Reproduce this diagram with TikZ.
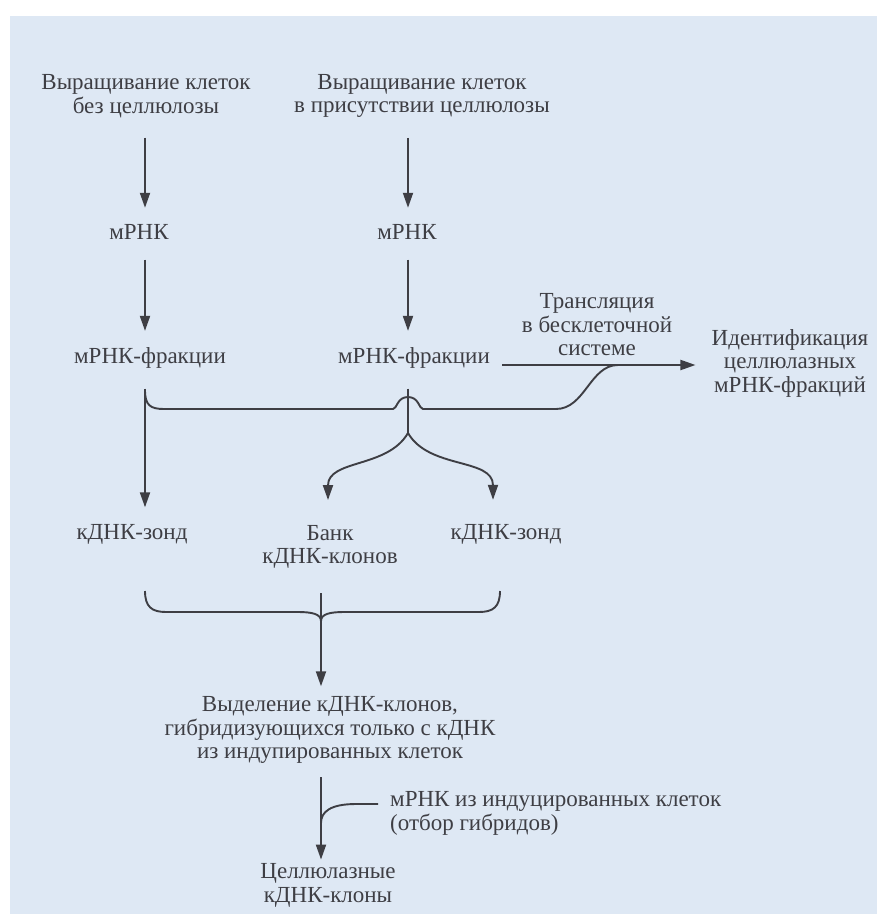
\documentclass[tikz,border=0pt]{standalone}
\usepackage{fontspec}
\setmainfont{Liberation Serif}
\usetikzlibrary{arrows.meta}
\definecolor{fon}{RGB}{222,232,244}
\definecolor{ink}{RGB}{62,62,68}
\tikzset{etap/.style={font=\fontsize{23}{23.5}\selectfont, text=ink, align=center, inner sep=0pt},
         linia/.style={draw=ink, line width=1.9pt},
         strelka/.style={linia, -{Triangle[length=15pt,width=10pt]}, shorten <=20pt, shorten >=16.5pt}}

\begin{document}
\begin{tikzpicture}[x=1pt, y=-1pt]
  \useasboundingbox (0,0) rectangle (877,914);
  \fill[white] (0,0) rectangle (877,914);
  \fill[fon] (10,16) rectangle (877,914);
  \coordinate (kolA) at (145,0); \coordinate (kolB) at (408,0); \coordinate (kolC) at (321,0);

  \node[etap] (rost1) at (146,96) {Выращивание клеток\\без целлюлозы};
  \node[etap] (rost2) at (422,96) {Выращивание клеток\\в присутствии целлюлозы};
  \node[etap] (mrnk1) at (139,232) {мРНК};
  \node[etap] (mrnk2) at (407,232) {мРНК};
  \node[etap] (frak1) at (150,358) {мРНК-фракции};
  \node[etap] (frak2) at (414,358) {мРНК-фракции};
  \node[etap] (transl) at (597,325) {Трансляция\\в бесклеточной\\системе};
  \node[etap] (ident) at (790,363) {Идентификация\\целлюлазных\\мРНК-фракций};
  \node[etap] (zond1) at (132,534) {кДНК-зонд};
  \node[etap] (bank) at (330,547) {Банк\\кДНК-клонов};
  \node[etap] (zond2) at (506,534) {кДНК-зонд};
  \node[etap] (vydel) at (330,730) {Выделение кДНК-клонов,\\гибридизующихся только с кДНК\\из индупированных клеток};
  \node[etap, align=left, anchor=west] (otbor) at (390,813.5) {мРНК из индуцированных клеток\\(отбор гибридов)};
  \node[etap] (klony) at (328,885.5) {Целлюлазные\\кДНК-клоны};

  \draw[strelka] (rost1.south -| kolA) -- (mrnk1.north -| kolA);
  \draw[strelka] (rost2.south -| kolB) -- (mrnk2.north -| kolB);
  \draw[strelka] (mrnk1.south -| kolA) -- (frak1.north -| kolA);
  \draw[strelka] (mrnk2.south -| kolB) -- (frak2.north -| kolB);
  \draw[strelka] (frak1.south -| kolA) -- (zond1.north -| kolA);

  \coordinate (start) at ([xshift=12pt, yshift=-7pt]frak2.east);
  \draw[strelka, shorten <=0pt, shorten >=16pt] (start) -- (start -| ident.west);
  \coordinate (vetkaA) at (145,390); \coordinate (vetkaT) at (618,365);
  \draw[linia] (vetkaA) .. controls (145,405) and (150,409) .. (164,409) -- (393,409)
    .. controls (397,409) and (397,397) .. (408,397) .. controls (419,397) and (419,409) .. (423,409)
    -- (556,409) .. controls (585,409) and (590,365) .. (vetkaT);

  \coordinate (razv) at (408,433);
  \draw[linia, shorten <=20pt] (frak2.south -| kolB) -- (razv);
  \draw[strelka, shorten <=0pt, shorten >=0pt] (razv) to[out=-120, in=90] ([xshift=-2pt, yshift=25pt]bank.north);
  \draw[strelka, shorten <=0pt, shorten >=0pt] (razv) to[out=-60, in=90] ([xshift=-13pt, yshift=24pt]zond2.north);

  \draw[linia] (145,591) .. controls (145,607) and (152,612) .. (166,612) -- (298,612)
    .. controls (312,612) and (321,614) .. (321,621) .. controls (321,614) and (330,612) .. (344,612)
    -- (479,612) .. controls (493,612) and (500,607) .. (500,591);
  \coordinate (skobka) at (321,593);
  \draw[strelka, shorten <=0pt, shorten >=10pt] (skobka) -- (vydel.north -| kolC);

  \draw[strelka, shorten <=13.5pt, shorten >=4pt] (vydel.south -| kolC) -- (klony.north -| kolC);
  \coordinate (styk) at (321,823);
  \draw[linia] ([xshift=-12pt, yshift=9.5pt]otbor.west) -- (356,804) .. controls (330,804) and (321,812) .. (styk);
\end{tikzpicture}
\end{document}
